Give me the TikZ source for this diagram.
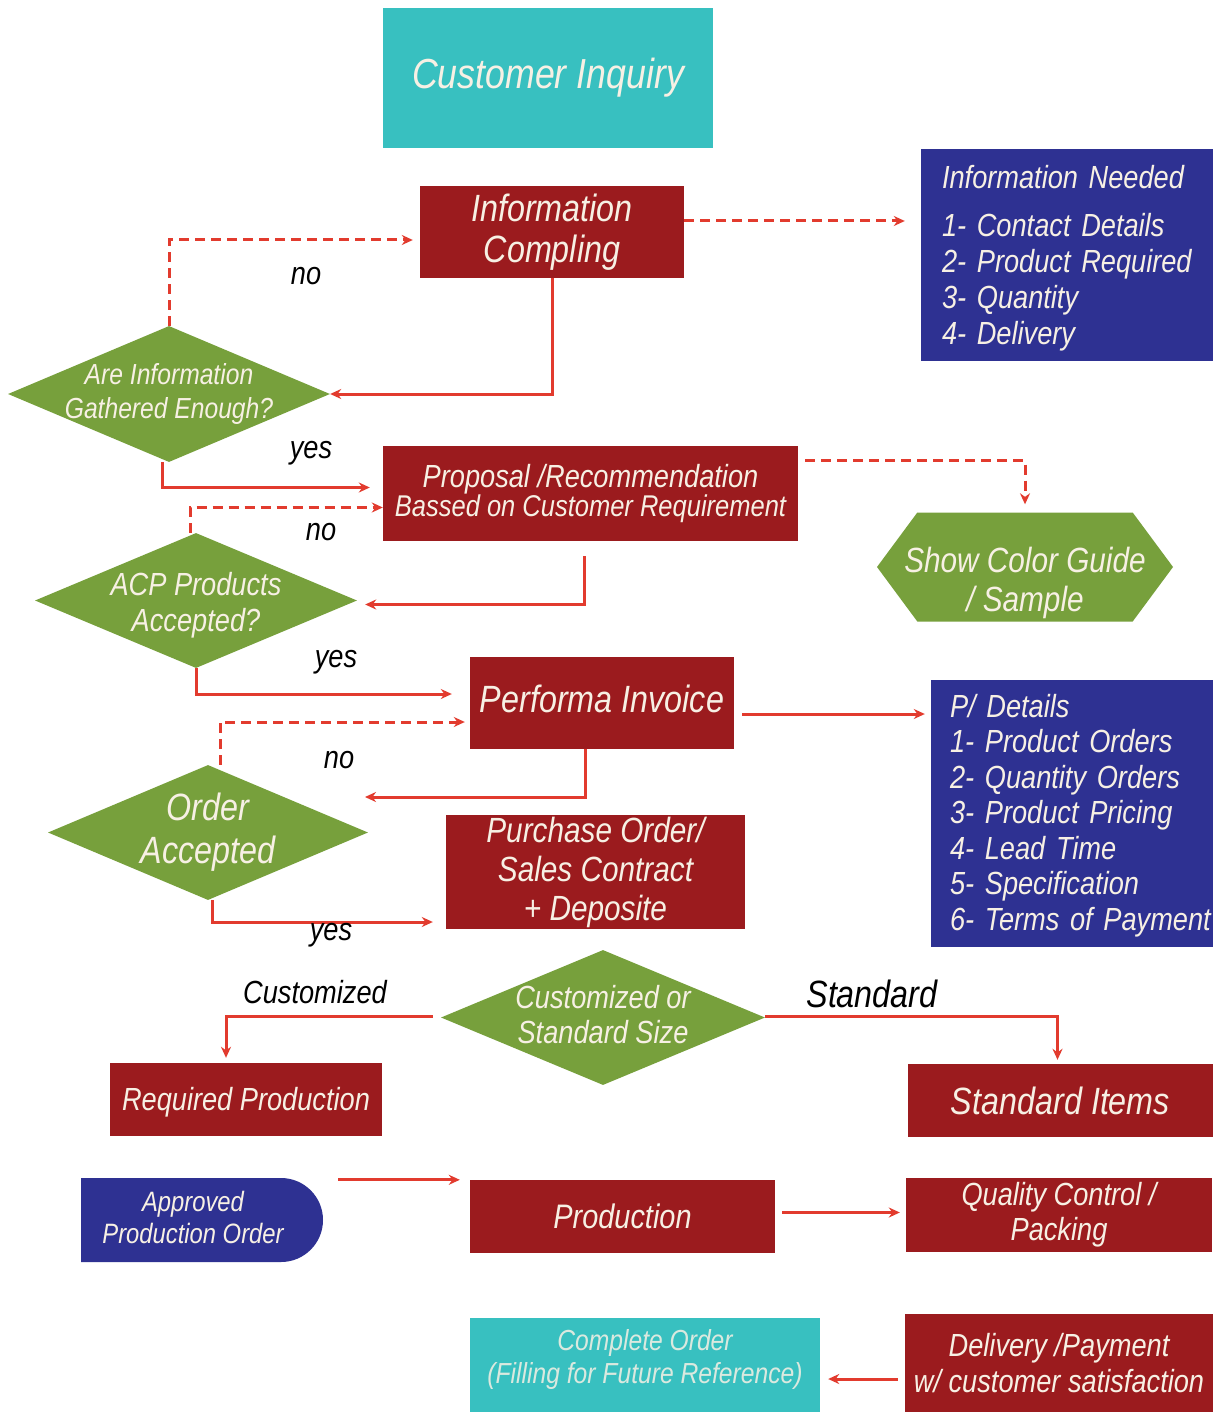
\documentclass[tikz,border=0pt]{standalone}
\usepackage{fontspec}
\newfontfamily\arn{Liberation Sans}[FakeStretch=0.85]
\usetikzlibrary{arrows.meta,shapes.geometric,shapes.misc,shapes.symbols,calc}
\definecolor{boxred}{RGB}{155,27,30}
\definecolor{boxteal}{RGB}{56,192,192}
\definecolor{boxblue}{RGB}{46,49,146}
\definecolor{boxgreen}{RGB}{119,160,60}
\definecolor{linered}{RGB}{226,59,46}
\definecolor{boxtext}{RGB}{247,240,228}
\newcommand\fsz[2]{\fontsize{#1}{#2}\selectfont}
\tikzset{
  box/.style={draw=none, inner sep=0, align=center, text=boxtext, font=\arn\itshape},
  redbox/.style={box, fill=boxred},
  bluebox/.style={box, fill=boxblue},
  tealbox/.style={box, fill=boxteal},
  greenshape/.style={draw=none, fill=boxgreen, inner sep=0},
  dia/.style={greenshape, diamond},
  intext/.style={inner sep=0, align=center, text=boxtext, font=\arn\itshape},
  conn/.style={draw=linered, line width=3pt, -{Stealth[length=11pt,width=10pt]}},
  dconn/.style={conn, dash pattern=on 10pt off 6pt},
  lbl/.style={inner sep=0, text=black, font=\arn\itshape\fsz{32}{36}},
}
\begin{document}
\begin{tikzpicture}[x=1pt,y=-1pt]
\useasboundingbox[fill=white] (0,0) rectangle (1227,1412);

% nodes
\node[tealbox, minimum width=330, minimum height=140, font=\arn\itshape\fsz{42}{46}] (ci) at (548,78) {Customer Inquiry};
\node[redbox, minimum width=264, minimum height=92, font=\arn\itshape\fsz{38}{41}] (ic) at (552,232) {Information\\Compling};
\node[bluebox, minimum width=292, minimum height=212,
  label={[intext, text width=262, align=left, font=\arn\itshape\fsz{32}{36}, xshift=6pt, yshift=-3pt]center:{Information Needed\\[12pt]1- Contact Details\\2- Product Required\\3- Quantity\\4- Delivery}}] (in) at (1067,255) {};
\node[dia, minimum width=322, minimum height=136,
  label={[intext, font=\arn\itshape\fsz{29}{33}]center:{Are Information\\Gathered Enough?}}] (d1) at (169,394) {};
\node[redbox, minimum width=415, minimum height=95] (prop) at (590.5,493.5)
  {{\fsz{32}{34}Proposal /Recommendation}\\{\fsz{30}{34}Bassed on Customer Requirement}};
\node[greenshape, signal, signal to=west and east, signal pointer angle=107, minimum width=296, minimum height=109,
  label={[intext, font=\arn\itshape\fsz{35}{39}, yshift=-16pt]center:{Show Color Guide\\/ Sample}}] (hex) at (1025,567) {};
\node[dia, minimum width=322, minimum height=135,
  label={[intext, font=\arn\itshape\fsz{32}{36}, yshift=-5pt]center:{ACP Products\\Accepted?}}] (acp) at (196,600.5) {};
\node[redbox, minimum width=264, minimum height=92,
  label={[intext, font=\arn\itshape\fsz{38}{41}, yshift=4pt]center:{Performa Invoice}}] (pi) at (602,703) {};
\node[bluebox, minimum width=282, minimum height=267,
  label={[intext, text width=262, align=left, font=\arn\itshape\fsz{32}{35.5}, xshift=9pt, yshift=-2pt]center:{P/ Details\\1- Product Orders\\2- Quantity Orders\\3- Product Pricing\\4- Lead Time\\5- Specification\\6- Terms of Payment}}] (pd) at (1072,813.5) {};
\node[dia, minimum width=320, minimum height=135,
  label={[intext, font=\arn\itshape\fsz{38}{43}]center:{Order\\Accepted}}] (oa) at (208,832.5) {};
\node[redbox, minimum width=299, minimum height=114, font=\arn\itshape\fsz{35}{39}] (po) at (595.5,872) {Purchase Order/\\Sales Contract\\+ Deposite};
\node[dia, minimum width=324, minimum height=135,
  label={[intext, font=\arn\itshape\fsz{32}{35}, yshift=3pt]center:{Customized or\\Standard Size}}] (cs) at (603,1017.5) {};
\node[redbox, minimum width=272, minimum height=73,
  label={[intext, font=\arn\itshape\fsz{32}{36}, yshift=-3pt]center:{Required Production}}] (rp) at (246,1099.5) {};
\node[redbox, minimum width=305, minimum height=73, font=\arn\itshape\fsz{38}{42}] (si) at (1060.5,1100.5) {Standard Items};
\node[bluebox, rounded rectangle, rounded rectangle west arc=none, minimum width=242, minimum height=84,
  label={[intext, font=\arn\itshape\fsz{28}{32}, xshift=-9pt, yshift=3pt]center:{Approved\\Production Order}}] (apo) at (202,1220) {};
\node[redbox, minimum width=305, minimum height=73, font=\arn\itshape\fsz{34}{38}] (prod) at (622.5,1216.5) {Production};
\node[redbox, minimum width=306, minimum height=74, font=\arn\itshape\fsz{32}{35}] (qc) at (1059,1215) {Quality Control /\\Packing};
\node[tealbox, minimum width=350, minimum height=94,
  label={[intext, font=\arn\itshape\fsz{29}{33}, text=boxtext!85!boxteal, yshift=6pt]center:{Complete Order\\(Filling for Future Reference)}}] (co) at (645,1365) {};
\node[redbox, minimum width=308, minimum height=98, font=\arn\itshape\fsz{32}{36}] (del) at (1059,1363) {Delivery /Payment\\w/ customer satisfaction};

% helper points
\coordinate (oane) at (365,797);
\coordinate (p1) at ($(ic.east)+(0,-11)$);
\coordinate (p2) at ($(ic.west)+(0,8)$);
\coordinate (p3) at ($(prop.west)+(0,-6)$);
\coordinate (p4) at ($(prop.west)+(0,14)$);
\coordinate (p5) at ($(prop.east)+(7,-33)$);
\coordinate (p6) at ($(acp.east)+(0,4)$);
\coordinate (p7) at ($(pi.west)+(0,-9)$);
\coordinate (p8) at ($(pi.east)+(0,11)$);
\coordinate (p9) at ($(pi.west)+(0,19)$);
\coordinate (p10) at ($(po.west)+(0,50)$);
\coordinate (p11) at ($(apo.east |- apo.north)+(0,2)$);
\coordinate (p12) at ($(prod.east)+(0,-4)$);
\coordinate (p13) at ($(del.west)+(0,16)$);

% connectors
\draw[dconn, shorten >=16pt] (p1) -- (p1 -| in.west);
\draw[dconn, shorten >=7pt] (d1.north) |- (p2);
\draw[conn] (ic.south) |- (d1.east);
\draw[conn, shorten >=13pt] ($(d1.south)+(-7,0)$) |- (p3);
\draw[dconn] ($(acp.north)+(-6,0)$) |- (p4);
\draw[dconn, shorten >=8pt] (p5) -| (hex.north);
\draw[conn, shorten >=8pt] ($(prop.south)+(-6,15)$) |- (p6);
\draw[conn, shorten >=18pt] (acp.south) |- (p7);
\draw[conn, shorten >=6pt, shorten <=8pt] (p8) -- (p8 -| pd.west);
\draw[dconn, shorten >=5pt] ($(oa.north)+(12,0)$) |- (p9);
\draw[conn] ($(pi.south)+(-17,0)$) |- (oane);
\draw[conn, shorten >=13pt] ($(oa.south)+(4,0)$) |- (p10);
\draw[conn, shorten >=5pt, shorten <=8pt] ($(cs.west)+(0,-1)$) -| ($(rp.north)+(-20,0)$);
\draw[conn, shorten >=4pt] ($(cs.east)+(0,-1)$) -| ($(si.north)+(-3,0)$);
\draw[conn, shorten >=10pt, shorten <=15pt] (p11) -- (p11 -| prod.west);
\draw[conn, shorten >=6pt, shorten <=7pt] (p12) -- (p12 -| qc.west);
\draw[conn, shorten >=8pt, shorten <=7pt] (p13) -- (p13 -| co.east);

% labels
\node[lbl] (lno1) at (306,276) {no};
\node[lbl] (lyes1) at (311,453) {yes};
\node[lbl] (lno2) at (321,532) {no};
\node[lbl] (lyes2) at (336,662) {yes};
\node[lbl] (lno3) at (339,760) {no};
\node[lbl] (lyes3) at (331,935) {yes};
\node[lbl] (lcust) at (315,992) {Customized};
\node[lbl, font=\arn\itshape\fsz{38}{42}] (lstd) at (872,994) {Standard};
\end{tikzpicture}
\end{document}
